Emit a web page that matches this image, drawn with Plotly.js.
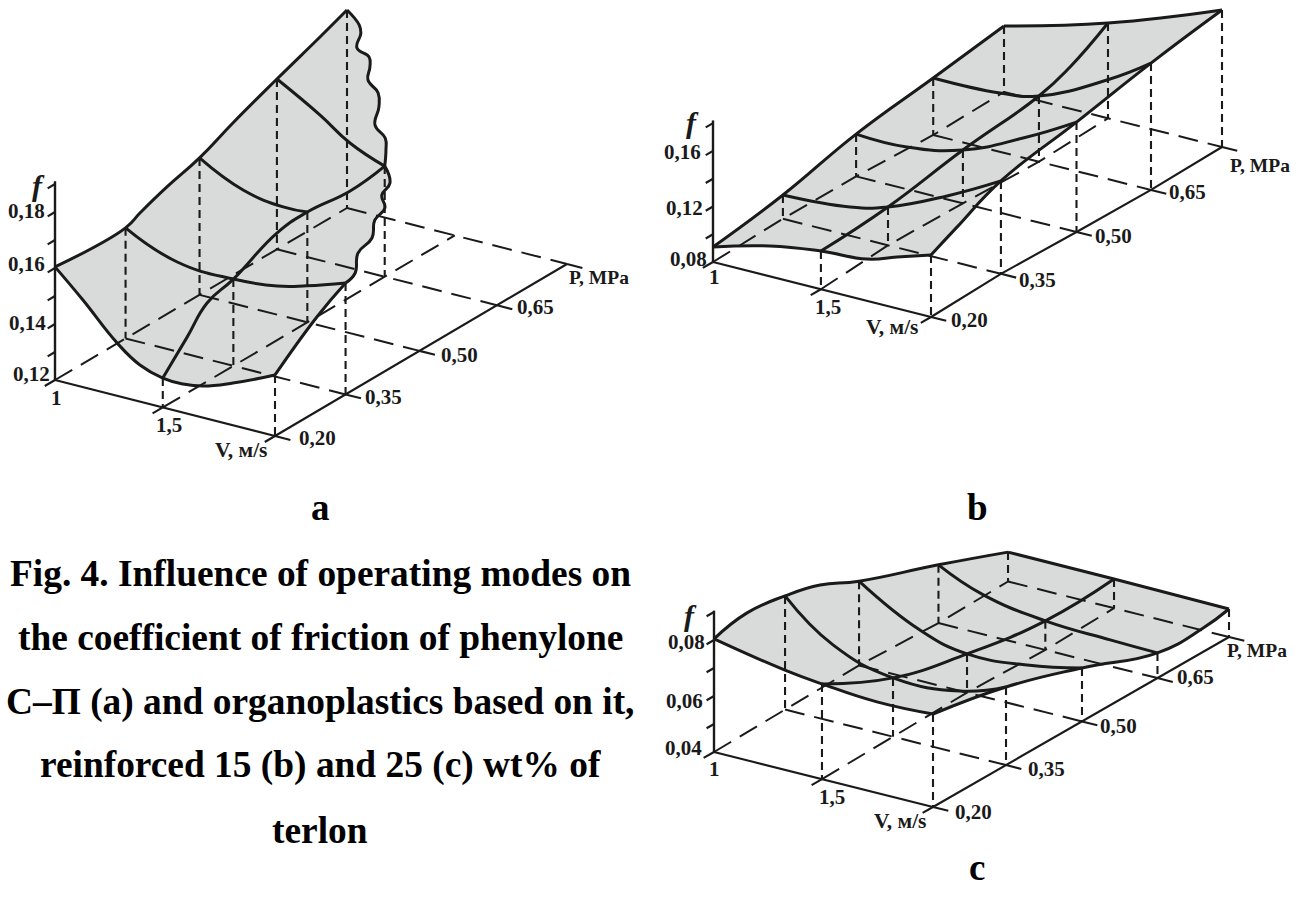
<!DOCTYPE html>
<html>
<head>
<meta charset="utf-8">
<script src="https://cdn.plot.ly/plotly-3.0.1.min.js"></script>
<style>html,body{margin:0;padding:0;background:#fff;overflow:hidden}#chart{width:1301px;height:906px}</style>
</head>
<body>
<div id="chart"></div>
<script>
// ---------- Values: V (m/s), P (MPa), f ----------
// Panel a
const aGridP = [0.2, 0.345, 0.497, 0.656, 0.8];
const aGridV = [[1,1,1,1,1],[1.49,1.49,1.49,1.49,1.49],[2,2,2,2,2]];
const aNodeF = [[0.1604,0.1595,0.1689,0.1808,0.1907],[0.1305,0.1510,0.1594,0.1595,null],[0.1418,0.1598,null,null,null]];
const aP20V = [1,1.127,1.282,1.386,1.49,1.582,1.673,1.809,2];
const aP20F = [0.1604,0.1511,0.1389,0.1331,0.1305,0.1302,0.1313,0.1351,0.1418];
const aP35V = [1,1.235,1.49,1.689,1.825,2];
const aP35F = [0.1595,0.1520,0.1510,0.1525,0.1553,0.1598];
const aP50V = [1,1.198,1.38,1.49];
const aP50F = [0.1689,0.1614,0.1590,0.1594];
const aP65V = [1,1.195,1.332,1.49];
const aP65F = [0.1808,0.1719,0.1646,0.1595];
const aV10P = [0.2,0.345,0.375,0.430,0.497,0.566,0.656,0.745,0.8];
const aV10F = [0.1604,0.1595,0.1618,0.1654,0.1689,0.1744,0.1808,0.1868,0.1907];
const aV15P = [0.2,0.25,0.291,0.345,0.435,0.497,0.585,0.656];
const aV15F = [0.1305,0.1400,0.1480,0.1510,0.1583,0.1594,0.1579,0.1595];
const aV20P = [0.2,0.286,0.345];
const aV20F = [0.1418,0.1537,0.1598];
const aEdge1V = [1,1.042,1.083,1.125,1.167,1.208,1.25,1.292,1.333,1.375,1.417,1.458,1.49];
const aEdge1P = [0.8,0.806,0.791,0.764,0.770,0.753,0.730,0.732,0.715,0.688,0.690,0.673,0.656];
const aEdge1F = [0.1907,0.1856,0.1851,0.1833,0.1803,0.1793,0.1779,0.1739,0.1714,0.1686,0.1646,0.1629,0.1595];
const aEdge2V = [1.49,1.5625,1.625,1.6875,1.75,1.8125,1.875,1.9375,2];
const aEdge2P = [0.656,0.634,0.589,0.567,0.518,0.484,0.427,0.393,0.345];
const aEdge2F = [0.1595,0.1572,0.1587,0.1576,0.1595,0.1579,0.1596,0.1572,0.1598];
// Panel b
const bGridP = [0.2,0.35,0.5,0.65,0.8];
const bGridV = [[1,0.987,0.989,1.009,1],[1.495,1.469,1.479,1.494,1.477],[2,1.987,2,2.008,2]];
const bNodeF = [[0.0908,0.0971,0.1105,0.1211,0.1276],[0.1075,0.1076,0.1184,0.1273,0.1486],[0.1247,0.1469,0.1592,0.1714,0.1787]];
const bP20V = [1,1.261,1.495,1.706,1.844,2];
const bP20F = [0.0908,0.1019,0.1075,0.1101,0.1170,0.1247];
const bP35V = [0.987,1.295,1.469,1.74,1.987];
const bP35F = [0.0971,0.1007,0.1076,0.1263,0.1469];
const bP50V = [0.989,1.222,1.479,1.755,2];
const bP50F = [0.1105,0.1104,0.1184,0.1380,0.1592];
const bP65V = [1.009,1.315,1.494,1.806,2.008];
const bP65F = [0.1211,0.1224,0.1273,0.1512,0.1714];
const bP80V = [1,1.477,2];
const bP80F = [0.1276,0.1486,0.1787];
const bV15V = [1.495,1.469,1.479,1.494,1.49,1.477];
const bV15P = [0.2,0.35,0.5,0.65,0.716,0.8];
const bV15F = [0.1075,0.1076,0.1184,0.1273,0.1346,0.1486];
const bV20V = [2,2,1.987,2,2.008,2];
const bV20P = [0.2,0.254,0.35,0.5,0.65,0.8];
const bV20F = [0.1247,0.1339,0.1469,0.1592,0.1714,0.1787];
// Panel c
const cGridP = [0.2,0.348,0.502,0.655,0.8];
const cGridV = [[1,0.991,0.982,1,0.991],[1.493,1.484,1.475,1.488,1.475],[2,2,2,2,2]];
const cNodeF = [[0.0804,0.0806,0.0701,0.0608,0.0505],[0.0740,0.0610,0.0538,0.0504,0.0504],[0.0732,0.0679,0.0591,0.0490,0.05]];
const cP20V = [1,1.324,1.493,1.744,2];
const cP20F = [0.0804,0.0756,0.0740,0.0725,0.0732];
const cP35V = [0.991,1.21,1.484,1.79,2];
const cP35F = [0.0806,0.0674,0.0610,0.0623,0.0679];
const cP50V = [0.982,1.26,1.475,1.749,2];
const cP50F = [0.0701,0.0581,0.0538,0.0552,0.0591];
const cP65V = [1,1.205,1.488,1.784,2];
const cP65F = [0.0608,0.0541,0.0504,0.0494,0.0490];
const cP80V = [0.991,1.475,2];
const cP80F = [0.0505,0.0504,0.05];
const cV10V = [1,1,0.991,1,0.982,1,0.991];
const cV10P = [0.2,0.267,0.348,0.415,0.502,0.655,0.8];
const cV10F = [0.0804,0.0829,0.0806,0.0779,0.0701,0.0608,0.0505];
const cV15V = [1.493,1.484,1.475,1.488,1.475];
const cV15P = [0.2,0.348,0.502,0.655,0.8];
const cV15F = [0.0740,0.0610,0.0538,0.0504,0.0504];
const cV20P = [0.2,0.348,0.502,0.655,0.747,0.8];
const cV20F = [0.0732,0.0679,0.0591,0.0490,0.0485,0.05];
// Axis ticks and words
const aFTicks = [0.13,0.14,0.15,0.16,0.17,0.18,0.19];
const bFTicks = [0.10,0.12,0.14,0.16,0.18];
const cFTicks = [0.05,0.06,0.07,0.08,0.09];
const captionLines = ["Fig. 4. Influence of operating modes on","the coefficient of friction of phenylone","C–Π (a) and organoplastics based on it,","reinforced 15 (b) and 25 (c) wt% of","terlon"];

// ---------- Oblique projection of each panel ----------
const INK = "#1a1a1a", GREY = "#d9dbdb", SERIF = "Liberation Serif, Times New Roman, serif";
const panels = [
 {xa:"x", ya:"y", box:[0,650,0,480], x0:55, y0:380, vx:220, vy:56, px:73, py:-43, fmin:0.12, fs:2800, ftop:0.191, fticks:aFTicks,
  gridP:aGridP, gridV:aGridV, nodeF:aNodeF,
  outline:[[1,aV10P,aV10F],[aEdge1V,aEdge1P,aEdge1F],[aEdge2V,aEdge2P,aEdge2F],[2,aV20P.slice().reverse(),aV20F.slice().reverse()],[aP20V.slice().reverse(),0.2,aP20F.slice().reverse()]],
  curves:[[1,aV10P,aV10F],[1.49,aV15P,aV15F],[2,aV20P,aV20F],[aP20V,0.2,aP20F],[aP35V,0.345,aP35F],[aP50V,0.497,aP50F],[aP65V,0.656,aP65F],[aEdge1V,aEdge1P,aEdge1F],[aEdge2V,aEdge2P,aEdge2F]],
  labels:[["<b><i>f</i></b>",38,185,30],["0,18",26,211],["0,16",26,264],["0,14",27,323],["0,12",31,374],["1",56,398],["1,5",169,425],["V, м/s",241,450,21.5],["0,20",317,438],["0,35",383,397],["0,50",459,355],["0,65",535,307],["P, MPa",599,277,19.5]]},
 {xa:"x2", ya:"y2", box:[650,1301,0,480], x0:713, y0:262, vx:218, vy:55, px:72.75, py:-42.5, fmin:0.08, fs:1388, ftop:0.182, fticks:bFTicks,
  gridP:bGridP, gridV:bGridV, nodeF:bNodeF,
  outline:[[bGridV[0],bGridP,bNodeF[0]],[bP80V,0.8,bP80F],[bV20V.slice().reverse(),bV20P.slice().reverse(),bV20F.slice().reverse()],[bP20V.slice().reverse(),0.2,bP20F.slice().reverse()]],
  curves:[[bGridV[0],bGridP,bNodeF[0]],[bV15V,bV15P,bV15F],[bV20V,bV20P,bV20F],[bP20V,0.2,bP20F],[bP35V,0.35,bP35F],[bP50V,0.5,bP50F],[bP65V,0.65,bP65F],[bP80V,0.8,bP80F]],
  labels:[["<b><i>f</i></b>",692,122,30],["0,16",682,152],["0,12",684,208],["0,08",688,259],["1",714,277],["1,5",828,307],["V, м/s",892,327,21.5],["0,20",969,320],["0,35",1037,280],["0,50",1113,236],["0,65",1187,192],["P, MPa",1260,165,19.5]]},
 {xa:"x3", ya:"y3", box:[650,1301,540,850], x0:714, y0:752, vx:219, vy:55, px:74, py:-42.5, fmin:0.04, fs:2800, ftop:0.0905, fticks:cFTicks,
  gridP:cGridP, gridV:cGridV, nodeF:cNodeF,
  outline:[[cV10V,cV10P,cV10F],[cP80V,0.8,cP80F],[2,cV20P.slice().reverse(),cV20F.slice().reverse()],[cP20V.slice().reverse(),0.2,cP20F.slice().reverse()]],
  curves:[[cV10V,cV10P,cV10F],[cV15V,cV15P,cV15F],[2,cV20P,cV20F],[cP20V,0.2,cP20F],[cP35V,0.348,cP35F],[cP50V,0.502,cP50F],[cP65V,0.655,cP65F],[cP80V,0.8,cP80F]],
  labels:[["<b><i>f</i></b>",690,615,30],["0,08",686,642],["0,06",684,701],["0,04",683,748],["1",714,769],["1,5",832,797],["V, м/s",900,821,21.5],["0,20",973,812],["0,35",1046,769],["0,50",1118,726],["0,65",1195,677],["P, MPa",1257,650,19.5]]}
];

function project(pn, V, P, f) {
  const n = [V,P,f].reduce((m,a)=>Array.isArray(a)?Math.max(m,a.length):m,1);
  const at = (a,i)=>Array.isArray(a)?a[i]:a;
  const xs=[], ys=[];
  for (let i=0;i<n;i++){
    const v=at(V,i)-1, k=(at(P,i)-0.2)/0.15, h=at(f,i)-pn.fmin;
    xs.push(pn.x0+pn.vx*v+pn.px*k);
    ys.push(pn.y0+pn.vy*v+pn.py*k-h*pn.fs);
  }
  return {x:xs,y:ys};
}

const traces=[], annotations=[], layout={};
panels.forEach((pn,idx)=>{
  const add=(V,P,f,lineStyle)=>{
    const xy=project(pn,V,P,f);
    traces.push({type:"scatter",mode:"lines",x:xy.x,y:xy.y,xaxis:pn.xa,yaxis:pn.ya,hoverinfo:"skip",cliponaxis:false,showlegend:false,line:lineStyle});
  };
  const solid={color:INK,width:2.1}, longDash={color:INK,width:2,dash:"20px,10px"}, shortDash={color:INK,width:2.1,dash:"8px,5px"};
  // grey surface
  const ox=[],oy=[];
  pn.outline.forEach(seg=>{const xy=project(pn,seg[0],seg[1],seg[2]);ox.push(...xy.x);oy.push(...xy.y);});
  traces.push({type:"scatter",mode:"lines",x:ox,y:oy,xaxis:pn.xa,yaxis:pn.ya,fill:"toself",fillcolor:GREY,line:{width:0,color:GREY},hoverinfo:"skip",cliponaxis:false,showlegend:false});
  // floor grid (dashed)
  [0,1].forEach(r=>add(pn.gridV[r],pn.gridP,pn.fmin,longDash));
  pn.gridP.forEach((P,j)=>{ if(j>0) add([pn.gridV[0][j],pn.gridV[2][j]],P,pn.fmin,longDash); });
  // drop lines from the surface nodes
  pn.nodeF.forEach((row,r)=>row.forEach((f,j)=>{
    if(f===null||(r===0&&j===0)) return;
    add(pn.gridV[r][j],pn.gridP[j],[f,pn.fmin],shortDash);
  }));
  // solid axes
  add([1,2],0.2,pn.fmin,solid);
  add(pn.gridV[2],pn.gridP,pn.fmin,solid);
  add(1,0.2,[pn.fmin,pn.ftop],{color:INK,width:2.4});
  // tick marks
  const tickP=0.2-0.15*0.14;
  [0,1,2].forEach(r=>add(pn.gridV[r][0],[0.2,tickP],pn.fmin,solid));
  pn.gridP.forEach((P,j)=>add([pn.gridV[2][j],pn.gridV[2][j]+0.07],P,pn.fmin,solid));
  pn.fticks.forEach(f=>add(1,[0.2,0.185],f,solid));
  // surface curves
  pn.curves.forEach(c=>add(c[0],c[1],c[2],{color:INK,width:3,shape:"spline",smoothing:1.3}));
  // labels
  pn.labels.forEach(l=>annotations.push({xref:pn.xa,yref:pn.ya,x:l[1],y:l[2],text:l[0].includes("<b>")?l[0]:"<b>"+l[0]+"</b>",showarrow:false,xanchor:"center",yanchor:"middle",font:{family:SERIF,size:l[3]||21,color:INK}}));
  // axes
  const suffix=idx===0?"":String(idx+1);
  layout["xaxis"+suffix]={domain:[pn.box[0]/1301,pn.box[1]/1301],range:[pn.box[0],pn.box[1]],visible:false,fixedrange:true};
  layout["yaxis"+suffix]={domain:[1-pn.box[3]/906,1-pn.box[2]/906],range:[pn.box[3],pn.box[2]],visible:false,fixedrange:true};
});

const pageText=(t,px,py,size)=>annotations.push({xref:"paper",yref:"paper",x:px/1301,y:1-py/906,text:"<b>"+t+"</b>",showarrow:false,xanchor:"center",yanchor:"middle",font:{family:SERIF,size:size,color:"#000"}});
pageText("a",320,507,37); pageText("b",977,507,37); pageText("c",977,867,37);
const captionY=[573,637,702,765,830];
captionLines.forEach((t,i)=>pageText(t,320,captionY[i],37.4));

Object.assign(layout,{width:1301,height:906,margin:{l:0,r:0,t:0,b:0},paper_bgcolor:"#fff",plot_bgcolor:"#fff",showlegend:false,annotations:annotations,hovermode:false});
Plotly.newPlot("chart",traces,layout,{displayModeBar:false,responsive:false});
</script>
</body>
</html>
